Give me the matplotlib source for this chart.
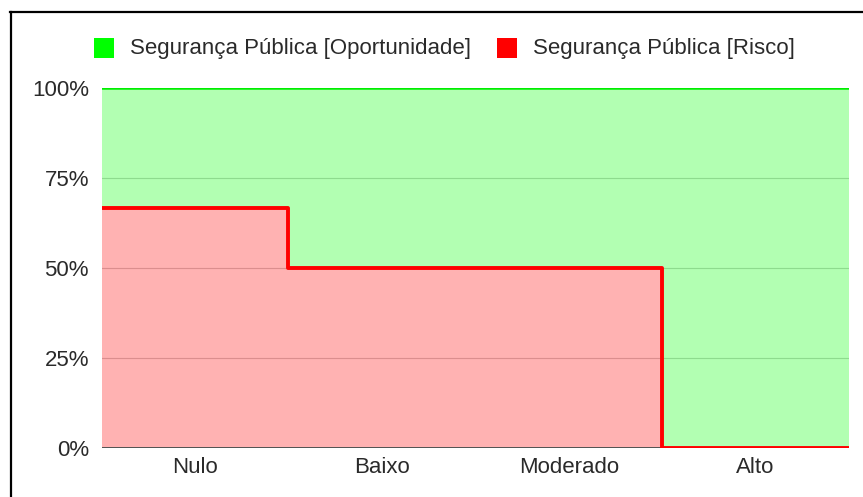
import matplotlib
matplotlib.use("Agg")
import matplotlib.pyplot as plt
from matplotlib.lines import Line2D
from matplotlib.patches import Rectangle
import numpy as np

categories = ["Nulo", "Baixo", "Moderado", "Alto"]
risco = [66.67, 50, 50, 0]
oportunidade = [100, 100, 100, 100]
y_ticks = [0, 25, 50, 75, 100]
y_tick_labels = ["0%", "25%", "50%", "75%", "100%"]
legend_labels = ["Segurança Pública [Oportunidade]", "Segurança Pública [Risco]"]

W, H = 863, 497
plt.rcParams['font.family'] = ['Liberation Sans', 'DejaVu Sans']
fig = plt.figure(figsize=(W / 100, H / 100), dpi=100)
ax = fig.add_axes([101.5 / W, 1 - 447.5 / H, (849 - 101.5) / W, (447.5 - 88) / H])

n = len(categories)
edges = np.arange(n + 1)
r = risco + [risco[-1]]
o = oportunidade + [oportunidade[-1]]

# gridlines (beneath translucent areas)
for t in y_ticks[1:-1]:
    ax.axhline(t, color='#cccccc', lw=0.8, zorder=0)
ax.axhline(0, color='#333333', lw=1.2, zorder=0.5)

ax.fill_between(edges, r, o, step='post', color=(0, 1, 0), alpha=0.3, lw=0, zorder=1)
ax.fill_between(edges, 0, r, step='post', color=(1, 0, 0), alpha=0.3, lw=0, zorder=1)
ax.step(edges, o, where='post', color='#00ee00', lw=1.8, zorder=3)
ax.step(edges, r, where='post', color='#ff0000', lw=2.8, zorder=4,
        solid_joinstyle='round', solid_capstyle='butt')

ax.set_xlim(0, n)
ax.set_ylim(0, 100)
ax.set_yticks(y_ticks)
ax.set_yticklabels(y_tick_labels)
ax.set_xticks(np.arange(n) + 0.5)
ax.set_xticklabels(categories)
ax.tick_params(length=0, labelsize=16, colors='#2a2a2a')
ax.tick_params(axis='y', pad=9)
ax.tick_params(axis='x', pad=7)
for s in ax.spines.values():
    s.set_visible(False)
ax.set_facecolor('white')

# legend
def px(x, y):
    return x / W, 1 - y / H

sq = 20
for (x0, col, label) in [(94, '#00ff00', legend_labels[0]), (497, '#ff0000', legend_labels[1])]:
    fx, fy = px(x0, 38 + sq)
    fig.add_artist(Rectangle((fx, fy), sq / W, sq / H, transform=fig.transFigure,
                             facecolor=col, edgecolor='none'))
    tx, ty = px(x0 + 36, 48.5)
    fig.text(tx, ty, label, fontsize=16, color='#2a2a2a', va='center', ha='left')

# outer frame (left and top)
fig.add_artist(Line2D([11 / W, 11 / W], [0, 1 - 11.5 / H], transform=fig.transFigure,
                      color='black', lw=1.6))
fig.add_artist(Line2D([10.4 / W, 1], [1 - 11.5 / H, 1 - 11.5 / H], transform=fig.transFigure,
                      color='black', lw=1.6))

fig.savefig("out.png", dpi=100)
